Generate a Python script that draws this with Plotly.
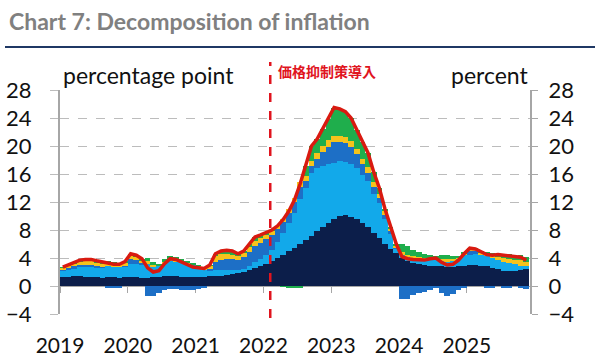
import plotly.graph_objects as go

years = [2019, 2020, 2021, 2022, 2023, 2024, 2025]
start_year = 2019

# Monthly contributions, Jan 2019 - Nov 2025 (percentage points)
navy = [
    1.3, 1.3, 1.4, 1.4, 1.3, 1.3, 1.3, 1.2, 1.3, 1.3, 1.2, 1.3,
    1.3, 1.3, 1.2, 1.2, 1.3, 1.3, 1.4, 1.5, 1.4, 1.3, 1.3, 1.3,
    1.3, 1.3, 1.4, 1.5, 1.5, 1.6, 1.7, 1.8, 2.0, 2.3, 2.6, 2.9,
    3.2, 3.6, 4.0, 4.5, 5.0, 5.5, 6.0, 6.6, 7.2, 7.8, 8.4, 9.0,
    9.6, 10.0, 10.1, 9.9, 9.6, 9.0, 8.4, 7.6, 6.8, 6.0, 5.3, 4.7,
    4.0, 3.6, 3.3, 3.1, 3.0, 2.9, 2.8, 2.8, 2.7, 2.7, 2.8, 2.9,
    3.0, 3.0, 2.9, 2.8, 2.6, 2.5, 2.2, 2.1, 2.1, 2.3, 2.4,
]
light_blue = [
    0.9, 1.0, 1.1, 1.3, 1.4, 1.4, 1.4, 1.4, 1.5, 1.4, 1.5, 1.5,
    1.9, 1.8, 1.8, 2.0, 1.5, 1.6, 1.8, 2.1, 2.1, 2.0, 1.9, 1.7,
    1.4, 1.0, 0.8, 0.8, 0.8, 0.7, 0.6, 0.5, 0.5, 0.6, 0.8, 0.9,
    1.2, 1.6, 2.3, 3.1, 4.0, 5.0, 6.5, 7.4, 8.9, 9.0, 8.8, 8.5,
    8.0, 7.8, 7.6, 7.6, 7.3, 6.9, 6.6, 5.6, 5.0, 3.6, 2.1, 0.7,
    0.5, 0.6, 0.7, 0.7, 0.7, 0.8, 0.9, 0.8, 0.8, 0.9, 1.1, 1.6,
    1.5, 1.6, 1.6, 1.5, 1.4, 1.2, 1.2, 1.2, 1.0, 0.6, 0.4,
]
mid_blue = [
    0.2, 0.3, 0.3, 0.3, 0.3, 0.3, 0.2, 0.1, -0.2, -0.3, -0.2, 0.1,
    0.7, 0.6, 0.3, -1.4, -1.4, -1.0, -0.6, -0.4, -0.4, -0.5, -0.5, -0.6,
    -0.4, -0.2, 0.3, 1.2, 1.4, 1.5, 1.5, 1.4, 1.6, 2.0, 2.3, 2.3,
    2.3, 2.1, 1.8, 1.5, 1.5, 1.5, 1.6, 1.0, 1.0, 1.4, 1.9, 2.4,
    3.0, 2.8, 2.8, 2.4, 1.9, 1.5, 1.2, 1.0, 0.8, 0.6, 0.4, 0.1,
    -1.8, -1.8, -1.3, -1.0, -0.9, -0.6, -0.3, -1.0, -1.4, -1.2, -0.5, -0.2,
    0.6, 0.4, 0.0, -0.3, -0.3, 0.0, -0.2, -0.3, 0.0, -0.3, -0.4,
]
yellow = [
    0.2, 0.3, 0.4, 0.5, 0.6, 0.6, 0.5, 0.5, 0.5, 0.5, 0.4, 0.4,
    0.5, 0.5, 0.4, 0.4, 0.2, 0.0, 0.2, 0.3, 0.3, 0.3, 0.1, 0.1,
    0.2, 0.3, 0.4, 0.8, 0.9, 0.8, 0.7, 0.6, 0.6, 0.7, 0.8, 0.8,
    0.7, 0.6, 0.5, 0.5, 0.5, 0.6, 0.8, 0.7, 0.8, 0.8, 0.9, 0.9,
    0.9, 0.9, 0.8, 0.8, 0.8, 0.8, 0.8, 0.7, 0.6, 0.5, 0.4, 0.2,
    0.3, 0.3, 0.3, 0.3, 0.3, 0.3, 0.3, 0.3, 0.3, 0.3, 0.2, 0.2,
    0.2, 0.2, 0.3, 0.3, 0.4, 0.4, 0.6, 0.6, 0.6, 0.8, 0.7,
]
green = [
    0.1, 0.1, 0.2, 0.2, 0.2, 0.2, 0.2, 0.2, 0.2, 0.2, 0.2, 0.2,
    0.2, 0.2, 0.2, 0.4, 0.4, 0.3, 0.4, 0.4, 0.4, 0.3, 0.2, 0.2,
    0.1, 0.1, 0.1, 0.3, 0.4, 0.5, 0.5, 0.3, 0.3, 0.4, 0.5, 0.4,
    0.2, 0.1, 0.0, -0.1, -0.3, -0.3, -0.3, 1.5, 2.1, 2.0, 2.5, 3.0,
    4.0, 3.8, 3.6, 3.3, 2.7, 2.4, 2.0, 1.4, 0.8, 0.3, 0.3, 0.3,
    1.2, 1.2, 0.8, 0.7, 0.6, 0.5, 0.3, 0.5, 0.6, 0.4, 0.1, 0.1,
    0.1, 0.1, 0.1, 0.2, 0.3, 0.4, 0.6, 0.7, 0.6, 0.7, 0.6,
]
# Headline inflation (percent)
total = [
    2.7, 3.0, 3.4, 3.7, 3.8, 3.8, 3.6, 3.4, 3.3, 3.1, 3.1, 3.5,
    4.6, 4.4, 3.9, 2.6, 2.0, 2.2, 3.2, 3.9, 3.8, 3.4, 3.0, 2.7,
    2.6, 2.5, 3.0, 4.6, 5.0, 5.1, 5.0, 4.6, 5.0, 6.0, 7.0, 7.3,
    7.6, 8.0, 8.6, 9.5, 10.7, 12.3, 14.6, 17.2, 20.0, 21.0, 22.5, 23.8,
    25.5, 25.3, 24.9, 24.0, 22.3, 20.6, 19.0, 16.3, 14.0, 11.0, 8.5, 6.0,
    4.2, 3.9, 3.8, 3.8, 3.7, 3.9, 4.0, 3.4, 3.0, 3.1, 3.7, 4.6,
    5.4, 5.3, 4.9, 4.5, 4.4, 4.5, 4.4, 4.3, 4.3, 4.1, 3.7,
]

policy_date = 2022.1
policy_label = "価格抑制策導入"

x = [start_year + (i + 0.5) / 12 for i in range(len(total))]

series = [
    (navy, "#0c1e4a"),
    (light_blue, "#12a9ea"),
    (mid_blue, "#1d6fc6"),
    (yellow, "#f5c31c"),
    (green, "#1fae4c"),
]

fig = go.Figure()
for vals, col in series:
    fig.add_trace(go.Bar(x=x, y=vals, width=1 / 12, marker=dict(color=col, line=dict(width=0)),
                         showlegend=False, hoverinfo="skip"))

fig.add_trace(go.Scatter(x=x, y=total, mode="lines", line=dict(color="#d91a10", width=3.5),
                         xaxis="x2", yaxis="y2", showlegend=False, hoverinfo="skip"))

xr = [2019, 2025.93]
yr = [-4, 28]
font_family = "Lato, 'Open Sans', sans-serif"

fig.update_layout(
    width=603, height=359,
    margin=dict(l=60, r=73, t=90, b=45, autoexpand=False),
    paper_bgcolor="white", plot_bgcolor="white",
    barmode="relative", bargap=0,
    font=dict(family=font_family, color="#111111", size=21),
    xaxis=dict(range=xr, tickvals=years, ticktext=[str(y) for y in years],
               anchor="free", position=0.125, showgrid=False, zeroline=False,
               showline=True, linecolor="#a6a6a6", linewidth=1, layer="below traces",
               ticks="outside", ticklen=6, tickcolor="#a6a6a6", ticklabelstandoff=35,
               automargin=False, tickfont=dict(size=21)),
    xaxis2=dict(range=xr, overlaying="x", anchor="y2", visible=False, automargin=False),
    yaxis=dict(range=yr, tickvals=list(range(-4, 29, 4)), showgrid=True,
               gridcolor="#bcbcbc", griddash="dash", gridwidth=1, zeroline=False,
               showline=True, linecolor="#a6a6a6", linewidth=2, ticks="outside",
               ticklen=8, tickcolor="#bcbcbc", ticklabelstandoff=14, layer="below traces",
               automargin=False, tickfont=dict(size=22)),
    yaxis2=dict(range=yr, overlaying="y", side="right", anchor="x",
                tickvals=list(range(-4, 29, 4)), showgrid=False, zeroline=False,
                showline=True, linecolor="#a6a6a6", linewidth=2, ticks="outside",
                ticklen=6, tickcolor="#a6a6a6", ticklabelstandoff=6,
                automargin=False, tickfont=dict(size=22)),
)

W, H = 470, 224
def px(xp):
    return (xp - 60) / W
def py(yp):
    return (314 - yp) / H

fig.add_shape(type="line", xref="paper", yref="paper", x0=px(5), x1=px(595), y0=py(47), y1=py(47),
              line=dict(color="#1f3864", width=2))
fig.add_shape(type="line", xref="x", yref="paper", x0=policy_date, x1=policy_date, y0=py(318), y1=py(62),
              line=dict(color="#e0141e", width=2.5, dash="dash"))

fig.add_annotation(text="<b>Chart 7: Decomposition of inflation</b>", xref="paper", yref="paper",
                   x=px(7), y=py(21), xanchor="left", yanchor="middle", showarrow=False,
                   font=dict(size=23, color="#808080", family=font_family))
fig.add_annotation(text="percentage point", xref="paper", yref="paper", x=px(61), y=py(75),
                   xanchor="left", yanchor="middle", showarrow=False, font=dict(size=23))
fig.add_annotation(text="percent", xref="paper", yref="paper", x=px(531), y=py(75),
                   xanchor="right", yanchor="middle", showarrow=False, font=dict(size=23))
fig.add_annotation(text="<b>" + policy_label + "</b>", xref="paper", yref="paper", x=px(276), y=py(71),
                   xanchor="left", yanchor="middle", showarrow=False,
                   font=dict(size=14, color="#e0141e", family="Noto Sans CJK JP"))

fig.write_html("out.html", config={"displayModeBar": False},
               post_script="document.body.style.margin='0';document.body.style.padding='0';")
